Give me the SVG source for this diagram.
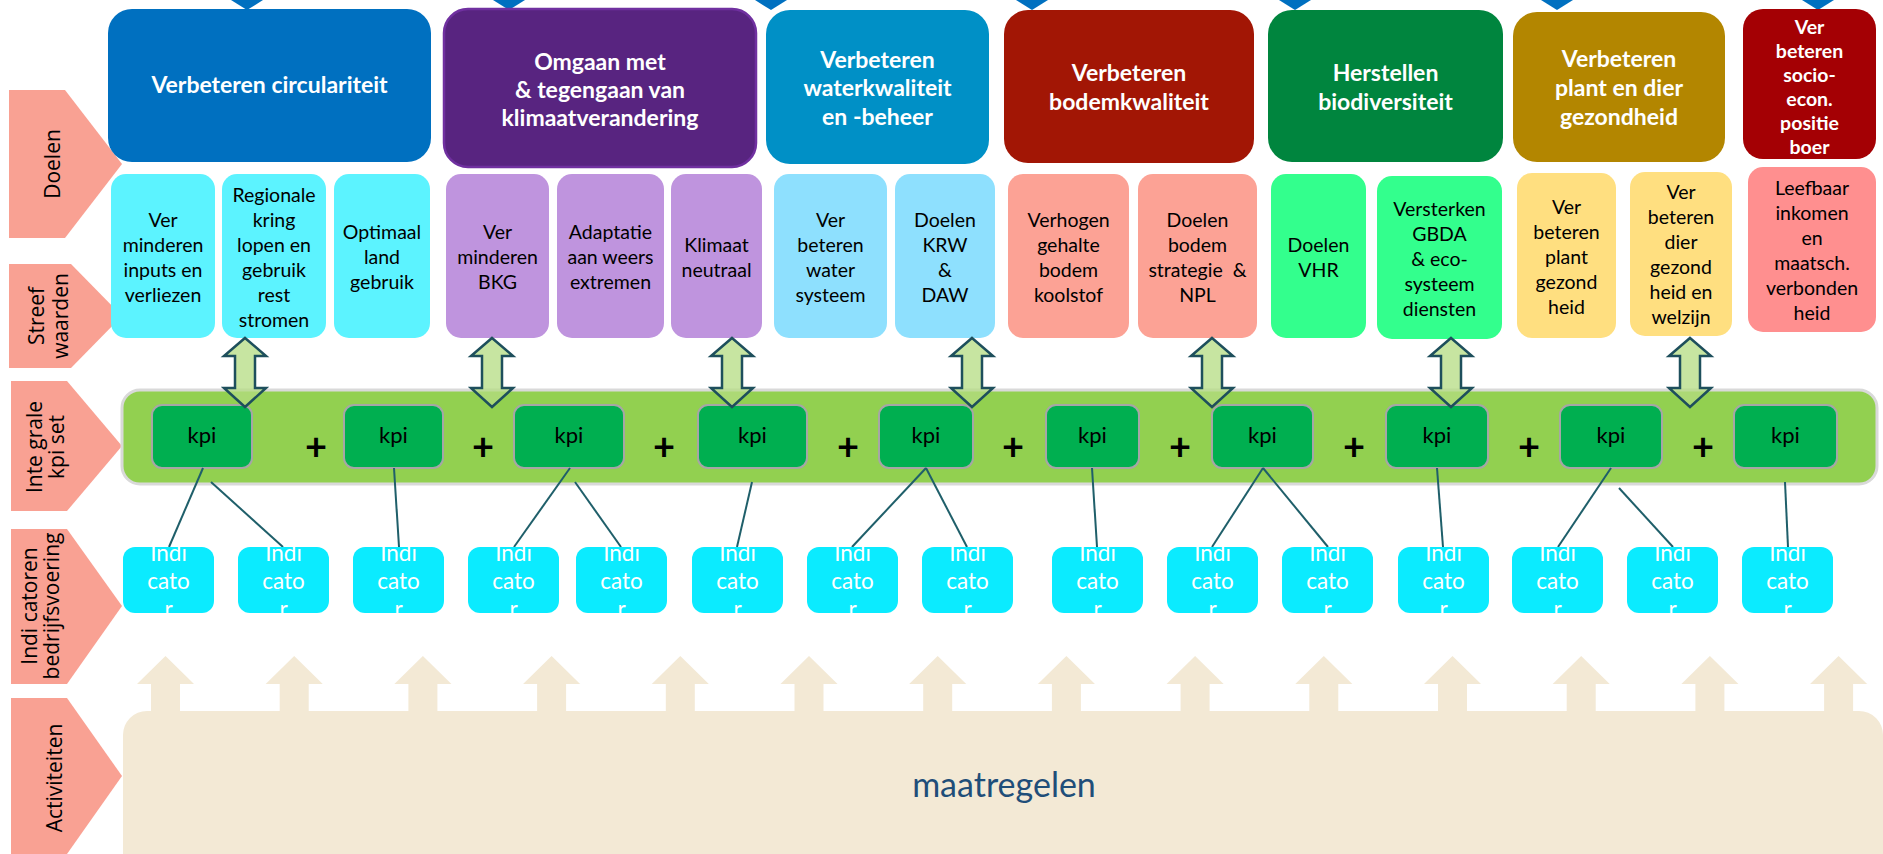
<svg xmlns="http://www.w3.org/2000/svg" width="1883" height="854" viewBox="0 0 1883 854">
<style>
.lab{fill:#F9A193}
.labt{font-family:"Open Sans","DejaVu Sans",sans-serif;font-size:21px;fill:#000;text-anchor:middle}
.hd{font-family:Lato,"Liberation Sans",sans-serif;font-size:23px;font-weight:bold;fill:#fff;text-anchor:middle}
.hds{font-family:Lato,"Liberation Sans",sans-serif;font-size:19.5px;font-weight:bold;fill:#fff;text-anchor:middle}
.sb{font-family:Lato,"Liberation Sans",sans-serif;font-size:19.5px;fill:#000;text-anchor:middle}
.kpi rect{fill:#00AF50;stroke:#A6A6A6;stroke-width:2}
.kpit{font-family:Lato,"Liberation Sans",sans-serif;font-size:22px;fill:#000;text-anchor:middle}
.plus{font-family:Lato,"Liberation Sans",sans-serif;font-size:38px;font-weight:bold;fill:#000;text-anchor:middle}
.ind rect{fill:#0BEBFF}
.indt{font-family:Lato,"Liberation Sans",sans-serif;font-size:22.5px;fill:#fff;text-anchor:middle}
.conn line{stroke:#1F5F6A;stroke-width:2}
.darr{fill:#B4DC82;fill-opacity:0.75;stroke:#1E4F5C;stroke-width:2.5;stroke-linejoin:miter}
.beige{fill:#F3E9D5}
.tri{fill:#0070C0}
</style>

<!-- top blue triangles -->
<g id="top-markers">
<polygon class="tri" points="231,0 263,0 247,10"/>
<polygon class="tri" points="493,0 525,0 509,10"/>
<polygon class="tri" points="755,0 787,0 771,10"/>
<polygon class="tri" points="1016,0 1048,0 1032,10"/>
<polygon class="tri" points="1279,0 1311,0 1295,10"/>
<polygon class="tri" points="1541,0 1573,0 1557,10"/>
<polygon class="tri" points="1802,0 1834,0 1818,10"/>
</g>

<!-- left row labels -->
<g id="label-doelen">
<polygon class="lab" points="9,90 65,90 122,164 65,238 9,238"/>
<text class="labt" transform="translate(60,164) rotate(-90)">Doelen</text>
</g>
<g id="label-streefwaarden">
<polygon class="lab" points="9,264 71,264 122,316 71,368 9,368"/>
<text class="labt" transform="translate(44,316) rotate(-90)">Streef</text>
<text class="labt" transform="translate(68,316) rotate(-90)">waarden</text>
</g>
<g id="label-kpiset">
<polygon class="lab" points="11,381 67,381 122,446 67,511 11,511"/>
<text class="labt" transform="translate(42,447) rotate(-90)">Inte grale</text>
<text class="labt" transform="translate(64,447) rotate(-90)">kpi set</text>
</g>
<g id="label-indicatoren">
<polygon class="lab" points="11,529 67,529 122,606 67,684 11,684"/>
<text class="labt" transform="translate(37,606) rotate(-90)">Indi catoren</text>
<text class="labt" transform="translate(59,606) rotate(-90)">bedrijfsvoering</text>
</g>
<g id="label-activiteiten">
<polygon class="lab" points="11,698 67,698 122,776 67,854 11,854"/>
<text class="labt" transform="translate(62,778) rotate(-90)">Activiteiten</text>
</g>

<!-- header goal boxes -->
<g id="goal-circulariteit">
<rect x="108" y="9" width="323" height="153" rx="24" fill="#0070C0"/>
<text class="hd" x="269.5" y="93" font-size="24">Verbeteren circulariteit</text>
</g>
<g id="goal-klimaat">
<rect x="444" y="9" width="312" height="158" rx="24" fill="#582480" stroke="#7030A0" stroke-width="2.5"/>
<text class="hd" x="600" y="70">Omgaan met</text>
<text class="hd" x="600" y="98">&amp; tegengaan van</text>
<text class="hd" x="600" y="126">klimaatverandering</text>
</g>
<g id="goal-water">
<rect x="766" y="10" width="223" height="154" rx="24" fill="#0090C6"/>
<text class="hd" x="877.5" y="68">Verbeteren</text>
<text class="hd" x="877.5" y="96">waterkwaliteit</text>
<text class="hd" x="877.5" y="125">en -beheer</text>
</g>
<g id="goal-bodem">
<rect x="1004" y="10" width="250" height="153" rx="24" fill="#A21605"/>
<text class="hd" x="1129" y="81">Verbeteren</text>
<text class="hd" x="1129" y="110">bodemkwaliteit</text>
</g>
<g id="goal-biodiversiteit">
<rect x="1268" y="10" width="235" height="152" rx="24" fill="#00853E"/>
<text class="hd" x="1385.5" y="81">Herstellen</text>
<text class="hd" x="1385.5" y="110">biodiversiteit</text>
</g>
<g id="goal-gezondheid">
<rect x="1513" y="12" width="212" height="150" rx="24" fill="#B38600"/>
<text class="hd" x="1619" y="67">Verbeteren</text>
<text class="hd" x="1619" y="96">plant en dier</text>
<text class="hd" x="1619" y="125">gezondheid</text>
</g>
<g id="goal-socio">
<rect x="1743" y="9" width="133" height="150" rx="20" fill="#A40004"/>
<text class="hds" x="1809.5" y="34">Ver</text>
<text class="hds" x="1809.5" y="58">beteren</text>
<text class="hds" x="1809.5" y="82">socio-</text>
<text class="hds" x="1809.5" y="106">econ.</text>
<text class="hds" x="1809.5" y="130">positie</text>
<text class="hds" x="1809.5" y="154">boer</text>
</g>

<!-- sub goals / streefwaarden -->
<g id="sub-a1">
<rect x="111" y="174" width="104" height="164" rx="15" fill="#5CF3FF"/>
<text class="sb" x="163" y="227">Ver</text><text class="sb" x="163" y="252">minderen</text><text class="sb" x="163" y="277">inputs en</text><text class="sb" x="163" y="302">verliezen</text>
</g>
<g id="sub-a2">
<rect x="222" y="174" width="104" height="164" rx="15" fill="#5CF3FF"/>
<text class="sb" x="274" y="202">Regionale</text><text class="sb" x="274" y="227">kring</text><text class="sb" x="274" y="252">lopen en</text><text class="sb" x="274" y="277">gebruik</text><text class="sb" x="274" y="302">rest</text><text class="sb" x="274" y="327">stromen</text>
</g>
<g id="sub-a3">
<rect x="334" y="174" width="96" height="164" rx="15" fill="#5CF3FF"/>
<text class="sb" x="382" y="239">Optimaal</text><text class="sb" x="382" y="264">land</text><text class="sb" x="382" y="289">gebruik</text>
</g>
<g id="sub-b1">
<rect x="446" y="174" width="103" height="164" rx="15" fill="#BF94DE"/>
<text class="sb" x="497.5" y="239">Ver</text><text class="sb" x="497.5" y="264">minderen</text><text class="sb" x="497.5" y="289">BKG</text>
</g>
<g id="sub-b2">
<rect x="557" y="174" width="107" height="164" rx="15" fill="#BF94DE"/>
<text class="sb" x="610.5" y="239">Adaptatie</text><text class="sb" x="610.5" y="264">aan weers</text><text class="sb" x="610.5" y="289">extremen</text>
</g>
<g id="sub-b3">
<rect x="671" y="174" width="91" height="164" rx="15" fill="#BF94DE"/>
<text class="sb" x="716.5" y="252">Klimaat</text><text class="sb" x="716.5" y="277">neutraal</text>
</g>
<g id="sub-c1">
<rect x="774" y="174" width="113" height="164" rx="15" fill="#8EE0FE"/>
<text class="sb" x="830.5" y="227">Ver</text><text class="sb" x="830.5" y="252">beteren</text><text class="sb" x="830.5" y="277">water</text><text class="sb" x="830.5" y="302">systeem</text>
</g>
<g id="sub-c2">
<rect x="895" y="174" width="100" height="164" rx="15" fill="#8EE0FE"/>
<text class="sb" x="945" y="227">Doelen</text><text class="sb" x="945" y="252">KRW</text><text class="sb" x="945" y="277">&amp;</text><text class="sb" x="945" y="302">DAW</text>
</g>
<g id="sub-d1">
<rect x="1008" y="174" width="121" height="164" rx="15" fill="#FCA295"/>
<text class="sb" x="1068.5" y="227">Verhogen</text><text class="sb" x="1068.5" y="252">gehalte</text><text class="sb" x="1068.5" y="277">bodem</text><text class="sb" x="1068.5" y="302">koolstof</text>
</g>
<g id="sub-d2">
<rect x="1138" y="174" width="119" height="164" rx="15" fill="#FCA295"/>
<text class="sb" x="1197.5" y="227">Doelen</text><text class="sb" x="1197.5" y="252">bodem</text><text class="sb" x="1197.5" y="277" word-spacing="5">strategie &amp;</text><text class="sb" x="1197.5" y="302">NPL</text>
</g>
<g id="sub-e1">
<rect x="1271" y="174" width="95" height="164" rx="15" fill="#33FF8D"/>
<text class="sb" x="1318.5" y="252">Doelen</text><text class="sb" x="1318.5" y="277">VHR</text>
</g>
<g id="sub-e2">
<rect x="1377" y="176" width="125" height="163" rx="15" fill="#33FF8D"/>
<text class="sb" x="1439.5" y="216">Versterken</text><text class="sb" x="1439.5" y="241">GBDA</text><text class="sb" x="1439.5" y="266">&amp; eco-</text><text class="sb" x="1439.5" y="291">systeem</text><text class="sb" x="1439.5" y="316">diensten</text>
</g>
<g id="sub-f1">
<rect x="1517" y="173" width="99" height="165" rx="15" fill="#FFDF80"/>
<text class="sb" x="1566.5" y="214">Ver</text><text class="sb" x="1566.5" y="239">beteren</text><text class="sb" x="1566.5" y="264">plant</text><text class="sb" x="1566.5" y="289">gezond</text><text class="sb" x="1566.5" y="314">heid</text>
</g>
<g id="sub-f2">
<rect x="1630" y="172" width="102" height="164" rx="15" fill="#FFDF80"/>
<text class="sb" x="1681" y="199">Ver</text><text class="sb" x="1681" y="224">beteren</text><text class="sb" x="1681" y="249">dier</text><text class="sb" x="1681" y="274">gezond</text><text class="sb" x="1681" y="299">heid en</text><text class="sb" x="1681" y="324">welzijn</text>
</g>
<g id="sub-g1">
<rect x="1748" y="167" width="128" height="165" rx="15" fill="#FF8F8F"/>
<text class="sb" x="1812" y="195">Leefbaar</text><text class="sb" x="1812" y="220">inkomen</text><text class="sb" x="1812" y="245">en</text><text class="sb" x="1812" y="270">maatsch.</text><text class="sb" x="1812" y="295">verbonden</text><text class="sb" x="1812" y="320">heid</text>
</g>

<!-- kpi band -->
<g id="kpi-band">
<rect x="122" y="390" width="1755" height="94" rx="18" fill="#92D050" stroke="#D9D9D9" stroke-width="3"/>
<text class="plus" x="316" y="460">+</text>
<text class="plus" x="483" y="460">+</text>
<text class="plus" x="664" y="460">+</text>
<text class="plus" x="848" y="460">+</text>
<text class="plus" x="1013" y="460">+</text>
<text class="plus" x="1180" y="460">+</text>
<text class="plus" x="1354" y="460">+</text>
<text class="plus" x="1529" y="460">+</text>
<text class="plus" x="1703" y="460">+</text>
</g>
<g id="kpi-1" class="kpi"><rect x="152" y="405" width="100" height="63" rx="10"/><text class="kpit" x="202" y="443">kpi</text></g>
<g id="kpi-2" class="kpi"><rect x="344" y="405" width="99" height="63" rx="10"/><text class="kpit" x="393.5" y="443">kpi</text></g>
<g id="kpi-3" class="kpi"><rect x="514" y="405" width="110" height="63" rx="10"/><text class="kpit" x="569" y="443">kpi</text></g>
<g id="kpi-4" class="kpi"><rect x="698" y="405" width="109" height="63" rx="10"/><text class="kpit" x="752.5" y="443">kpi</text></g>
<g id="kpi-5" class="kpi"><rect x="879" y="405" width="94" height="63" rx="10"/><text class="kpit" x="926" y="443">kpi</text></g>
<g id="kpi-6" class="kpi"><rect x="1046" y="405" width="93" height="63" rx="10"/><text class="kpit" x="1092.5" y="443">kpi</text></g>
<g id="kpi-7" class="kpi"><rect x="1212" y="405" width="101" height="63" rx="10"/><text class="kpit" x="1262.5" y="443">kpi</text></g>
<g id="kpi-8" class="kpi"><rect x="1386" y="405" width="102" height="63" rx="10"/><text class="kpit" x="1437" y="443">kpi</text></g>
<g id="kpi-9" class="kpi"><rect x="1560" y="405" width="102" height="63" rx="10"/><text class="kpit" x="1611" y="443">kpi</text></g>
<g id="kpi-10" class="kpi"><rect x="1734" y="405" width="103" height="63" rx="10"/><text class="kpit" x="1785.5" y="443">kpi</text></g>

<!-- connectors -->
<g id="connectors" class="conn">
<line x1="203" y1="468" x2="169" y2="547"/>
<line x1="211" y1="482" x2="283" y2="547"/>
<line x1="394" y1="468" x2="399" y2="547"/>
<line x1="570" y1="468" x2="514" y2="547"/>
<line x1="575" y1="482" x2="621" y2="547"/>
<line x1="752" y1="482" x2="737" y2="547"/>
<line x1="926" y1="468" x2="852" y2="547"/>
<line x1="926" y1="468" x2="967" y2="547"/>
<line x1="1092" y1="468" x2="1097" y2="547"/>
<line x1="1263" y1="468" x2="1212" y2="547"/>
<line x1="1263" y1="468" x2="1328" y2="547"/>
<line x1="1437" y1="468" x2="1443" y2="547"/>
<line x1="1611" y1="468" x2="1558" y2="547"/>
<line x1="1619" y1="488" x2="1673" y2="547"/>
<line x1="1785" y1="482" x2="1788" y2="547"/>
</g>

<!-- double arrows -->
<g id="double-arrows">
<polygon class="darr" points="245,338 266,356 255,356 255,388 266,388 245,407 224,388 235,388 235,356 224,356"/>
<polygon class="darr" points="492,338 513,356 502,356 502,388 513,388 492,407 471,388 482,388 482,356 471,356"/>
<polygon class="darr" points="732,338 753,356 742,356 742,388 753,388 732,407 711,388 722,388 722,356 711,356"/>
<polygon class="darr" points="972,338 993,356 982,356 982,388 993,388 972,407 951,388 962,388 962,356 951,356"/>
<polygon class="darr" points="1212,338 1233,356 1222,356 1222,388 1233,388 1212,407 1191,388 1202,388 1202,356 1191,356"/>
<polygon class="darr" points="1451,338 1472,356 1461,356 1461,388 1472,388 1451,407 1430,388 1441,388 1441,356 1430,356"/>
<polygon class="darr" points="1690,338 1711,356 1700,356 1700,388 1711,388 1690,407 1669,388 1680,388 1680,356 1669,356"/>
</g>

<!-- indicators -->
<g id="ind-1" class="ind"><rect x="123" y="547" width="91" height="66" rx="12"/><text class="indt" x="168.5" y="561">Indi</text><text class="indt" x="168.5" y="589">cato</text><text class="indt" x="168.5" y="617">r</text></g>
<g id="ind-2" class="ind"><rect x="238" y="547" width="91" height="66" rx="12"/><text class="indt" x="283.5" y="561">Indi</text><text class="indt" x="283.5" y="589">cato</text><text class="indt" x="283.5" y="617">r</text></g>
<g id="ind-3" class="ind"><rect x="353" y="547" width="91" height="66" rx="12"/><text class="indt" x="398.5" y="561">Indi</text><text class="indt" x="398.5" y="589">cato</text><text class="indt" x="398.5" y="617">r</text></g>
<g id="ind-4" class="ind"><rect x="468" y="547" width="91" height="66" rx="12"/><text class="indt" x="513.5" y="561">Indi</text><text class="indt" x="513.5" y="589">cato</text><text class="indt" x="513.5" y="617">r</text></g>
<g id="ind-5" class="ind"><rect x="576" y="547" width="91" height="66" rx="12"/><text class="indt" x="621.5" y="561">Indi</text><text class="indt" x="621.5" y="589">cato</text><text class="indt" x="621.5" y="617">r</text></g>
<g id="ind-6" class="ind"><rect x="692" y="547" width="91" height="66" rx="12"/><text class="indt" x="737.5" y="561">Indi</text><text class="indt" x="737.5" y="589">cato</text><text class="indt" x="737.5" y="617">r</text></g>
<g id="ind-7" class="ind"><rect x="807" y="547" width="91" height="66" rx="12"/><text class="indt" x="852.5" y="561">Indi</text><text class="indt" x="852.5" y="589">cato</text><text class="indt" x="852.5" y="617">r</text></g>
<g id="ind-8" class="ind"><rect x="922" y="547" width="91" height="66" rx="12"/><text class="indt" x="967.5" y="561">Indi</text><text class="indt" x="967.5" y="589">cato</text><text class="indt" x="967.5" y="617">r</text></g>
<g id="ind-9" class="ind"><rect x="1052" y="547" width="91" height="66" rx="12"/><text class="indt" x="1097.5" y="561">Indi</text><text class="indt" x="1097.5" y="589">cato</text><text class="indt" x="1097.5" y="617">r</text></g>
<g id="ind-10" class="ind"><rect x="1167" y="547" width="91" height="66" rx="12"/><text class="indt" x="1212.5" y="561">Indi</text><text class="indt" x="1212.5" y="589">cato</text><text class="indt" x="1212.5" y="617">r</text></g>
<g id="ind-11" class="ind"><rect x="1282" y="547" width="91" height="66" rx="12"/><text class="indt" x="1327.5" y="561">Indi</text><text class="indt" x="1327.5" y="589">cato</text><text class="indt" x="1327.5" y="617">r</text></g>
<g id="ind-12" class="ind"><rect x="1398" y="547" width="91" height="66" rx="12"/><text class="indt" x="1443.5" y="561">Indi</text><text class="indt" x="1443.5" y="589">cato</text><text class="indt" x="1443.5" y="617">r</text></g>
<g id="ind-13" class="ind"><rect x="1512" y="547" width="91" height="66" rx="12"/><text class="indt" x="1557.5" y="561">Indi</text><text class="indt" x="1557.5" y="589">cato</text><text class="indt" x="1557.5" y="617">r</text></g>
<g id="ind-14" class="ind"><rect x="1627" y="547" width="91" height="66" rx="12"/><text class="indt" x="1672.5" y="561">Indi</text><text class="indt" x="1672.5" y="589">cato</text><text class="indt" x="1672.5" y="617">r</text></g>
<g id="ind-15" class="ind"><rect x="1742" y="547" width="91" height="66" rx="12"/><text class="indt" x="1787.5" y="561">Indi</text><text class="indt" x="1787.5" y="589">cato</text><text class="indt" x="1787.5" y="617">r</text></g>

<!-- activities -->
<g id="maatregelen">
<rect class="beige" x="123" y="711" width="1760" height="170" rx="24"/>
<polygon class="beige" points="165.5,656 194,684 180,684 180,712 151,712 151,684 137,684"/>
<polygon class="beige" points="294.2,656 322.7,684 308.7,684 308.7,712 279.7,712 279.7,684 265.7,684"/>
<polygon class="beige" points="422.9,656 451.4,684 437.4,684 437.4,712 408.4,712 408.4,684 394.4,684"/>
<polygon class="beige" points="551.6,656 580.1,684 566.1,684 566.1,712 537.1,712 537.1,684 523.1,684"/>
<polygon class="beige" points="680.3,656 708.8,684 694.8,684 694.8,712 665.8,712 665.8,684 651.8,684"/>
<polygon class="beige" points="809,656 837.5,684 823.5,684 823.5,712 794.5,712 794.5,684 780.5,684"/>
<polygon class="beige" points="937.7,656 966.2,684 952.2,684 952.2,712 923.2,712 923.2,684 909.2,684"/>
<polygon class="beige" points="1066.4,656 1094.9,684 1080.9,684 1080.9,712 1051.9,712 1051.9,684 1037.9,684"/>
<polygon class="beige" points="1195.1,656 1223.6,684 1209.6,684 1209.6,712 1180.6,712 1180.6,684 1166.6,684"/>
<polygon class="beige" points="1323.8,656 1352.3,684 1338.3,684 1338.3,712 1309.3,712 1309.3,684 1295.3,684"/>
<polygon class="beige" points="1452.5,656 1481,684 1467,684 1467,712 1438,712 1438,684 1424,684"/>
<polygon class="beige" points="1581.2,656 1609.7,684 1595.7,684 1595.7,712 1566.7,712 1566.7,684 1552.7,684"/>
<polygon class="beige" points="1709.9,656 1738.4,684 1724.4,684 1724.4,712 1695.4,712 1695.4,684 1681.4,684"/>
<polygon class="beige" points="1838.6,656 1867.1,684 1853.1,684 1853.1,712 1824.1,712 1824.1,684 1810.1,684"/>
<text x="1004" y="797" font-family="Lato,'Liberation Sans',sans-serif" font-size="34" fill="#1F4E79" text-anchor="middle">maatregelen</text>
</g>
</svg>
